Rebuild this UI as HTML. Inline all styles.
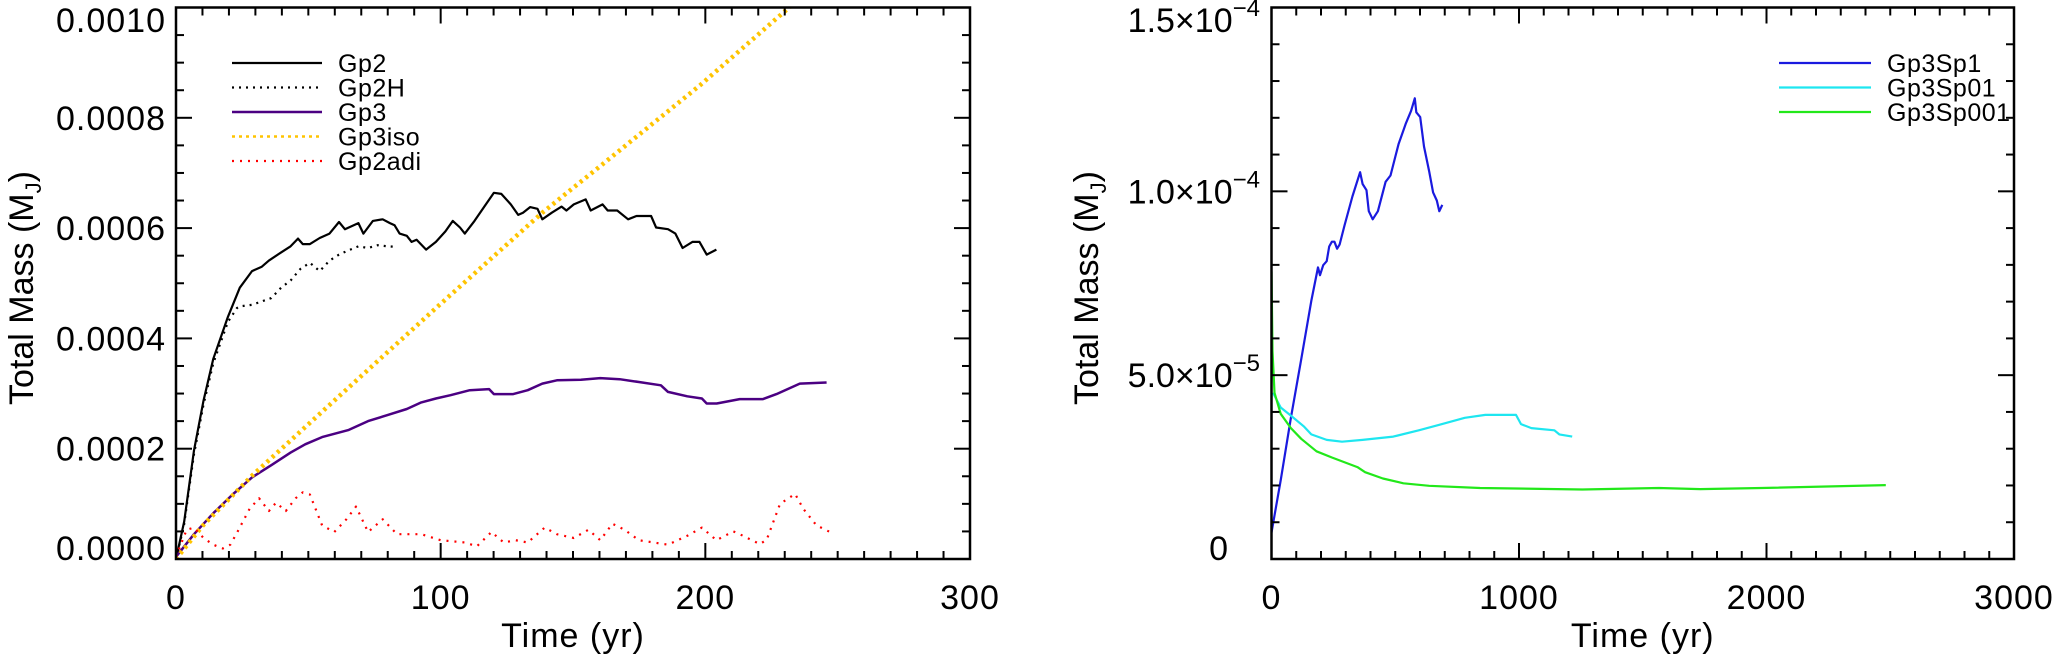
<!DOCTYPE html>
<html><head><meta charset="utf-8">
<style>
html,body{margin:0;padding:0;background:#fff;}
svg{display:block;font-family:"Liberation Sans",sans-serif;}
</style></head>
<body>
<svg id="chart" width="2052" height="655" viewBox="0 0 2052 655" xmlns="http://www.w3.org/2000/svg"></svg>
<script>
// ---------- Left panel data (time in yr, mass in units of 1e-4 MJ) ----------
const gp2T = [0,3.1,6.8,10.4,14.1,19.6,24.1,28.7,32.4,35.1,39.7,43.3,46.1,47.9,50.6,54.3,58.0,61.6,63.8,68.9,70.8,74.4,78.1,80.8,82.6,84.5,87.2,89.0,90.9,94.5,98.2,101.8,104.6,107.3,109.1,112.8,116.5,120.1,122.9,126.5,129.3,131.1,133.8,136.6,138.4,142.0,145.7,147.5,150.3,154.8,156.7,161.2,163.1,166.7,170.8,174.0,179.5,181.4,185.9,188.7,191.4,195.1,197.8,200.5,204.2];
const gp2M = [0,0.68,1.97,2.87,3.63,4.39,4.92,5.22,5.30,5.41,5.56,5.67,5.81,5.71,5.71,5.82,5.90,6.11,5.98,6.09,5.90,6.13,6.16,6.09,6.05,5.90,5.86,5.75,5.79,5.61,5.75,5.94,6.13,6.01,5.90,6.13,6.39,6.64,6.62,6.43,6.24,6.28,6.38,6.35,6.16,6.28,6.39,6.32,6.43,6.52,6.32,6.43,6.32,6.32,6.16,6.22,6.22,6.01,5.98,5.90,5.64,5.75,5.75,5.52,5.61];
const gp2hT = [0,3,6.8,10.4,14.1,19.6,23,24.1,28.7,36.0,39.7,43.3,47.0,50.6,54.3,58.0,61.6,65.3,68.9,72.6,76.2,79.9,83.5];
const gp2hM = [0,0.6,1.9,2.8,3.55,4.3,4.55,4.58,4.61,4.73,4.92,5.05,5.26,5.37,5.22,5.41,5.52,5.60,5.67,5.64,5.69,5.67,5.66];
const gp3T = [0,6.8,14.1,21.4,28.7,36.0,43.3,48.8,55.2,59.8,65.3,72.6,79.9,87.2,92.7,98.2,103.7,111,118.3,120.1,127.4,132.9,138.4,143.9,153,160.3,167.6,174.9,183.2,185.9,193.2,198.7,200.5,204.3,213,221.8,226.9,235.7,245.8];
const gp3M = [0.04,0.45,0.83,1.17,1.48,1.70,1.93,2.08,2.21,2.27,2.34,2.50,2.61,2.72,2.84,2.91,2.97,3.06,3.08,2.99,2.99,3.06,3.18,3.24,3.25,3.28,3.26,3.21,3.15,3.03,2.95,2.91,2.82,2.82,2.90,2.90,2.99,3.18,3.20];
const isoT = [0,10,28.7,61.6,98.2,138.4,160.2,198,230.7,240];
const isoM = [0,0.6,1.51,2.95,4.55,6.28,7.12,8.59,9.96,10.35];
const adiT = [0,4,6.8,10.4,14.1,17.7,20.5,23.2,27.8,31.4,35.1,37.8,41.5,45.2,47.9,50.6,55.2,59.8,64.4,68,72.6,78.1,83.5,92.7,100,109.1,113.7,119.2,123.8,128.3,132.9,139.3,143.9,150.3,155.8,160.3,164.9,169.5,174.9,185.9,193.2,198.7,204.2,210.6,213,220.6,223.2,228.2,233.9,237,242,248.3];
const adiM = [0.04,0.53,0.57,0.38,0.26,0.19,0.26,0.49,0.91,1.10,0.87,1.02,0.87,1.10,1.21,1.17,0.61,0.49,0.72,0.95,0.49,0.72,0.45,0.45,0.34,0.30,0.23,0.49,0.30,0.34,0.30,0.57,0.45,0.38,0.53,0.34,0.64,0.53,0.34,0.26,0.42,0.57,0.34,0.50,0.45,0.27,0.35,1.0,1.18,0.91,0.61,0.46];
const leftYTicks = [0,2,4,6,8,10];
const leftYLabels = ["0.0000","0.0002","0.0004","0.0006","0.0008","0.0010"];
const leftXTicks = [0,100,200,300];
const leftXLabels = ["0","100","200","300"];

// ---------- Right panel data (time in yr, mass in units of 1e-5 MJ) ----------
const sp1T = [0,37,78.5,120,161,188,196,209,223,233,244,254,265,275,295,327,358,368,384,393,409,430,461,481,513,543,564,579,585,601,616,637,653,668,678,690];
const sp1M = [0.72,2.14,3.84,5.43,7.02,7.93,7.72,7.99,8.10,8.50,8.63,8.63,8.44,8.55,9.07,9.86,10.52,10.20,10.03,9.46,9.24,9.46,10.26,10.43,11.28,11.85,12.19,12.53,12.15,12.02,11.22,10.54,9.97,9.75,9.46,9.63];
const sp01T = [6,37,78.5,130,161,223,285,368,492,595,678,781,864,988,1008,1050,1143,1163,1215];
const sp01M = [4.52,4.12,3.90,3.61,3.39,3.24,3.19,3.24,3.33,3.50,3.65,3.84,3.92,3.92,3.67,3.56,3.50,3.39,3.33];
const sp001T = [0,4,12,37,78.5,120,182,244,347,378,450,533,637,843,1256,1566,1732,1980,2482];
const sp001M = [7.82,5.66,4.52,3.95,3.56,3.27,2.93,2.76,2.50,2.36,2.19,2.06,1.99,1.93,1.89,1.93,1.90,1.93,2.01];
const rightYTicks = [0,5,10,15];
const rightYMant = ["","5.0","1.0","1.5"];
const rightYExp = ["","-5","-4","-4"];
const rightXTicks = [0,1000,2000,3000];
const rightXLabels = ["0","1000","2000","3000"];

const NS = "http://www.w3.org/2000/svg";
const svg = document.getElementById("chart");
function mk(tag, attrs, parent){
  const e = document.createElementNS(NS, tag);
  for (const k in attrs) e.setAttribute(k, attrs[k]);
  (parent||svg).appendChild(e);
  return e;
}

function panel(cfg){
  const g = mk("g", {});
  
  
  const {x0,x1,y0,y1,xmax,ymax} = cfg;
  const sx = t => x0 + (t/xmax)*(x1-x0);
  const sy = m => y0 - (m/ymax)*(y0-y1);
  const cid = cfg.name+"-clip";
  const cp = mk("clipPath",{id:cid},g);
  mk("rect",{x:x0,y:y1,width:x1-x0,height:y0-y1},cp);
  cfg.series.forEach(s=>{
    const pts = s.t.map((t,i)=>sx(t).toFixed(1)+","+sy(s.m[i]).toFixed(1)).join(" ");
    const pl = mk("polyline",{points:pts,fill:"none",stroke:s.color,"stroke-width":s.w,"stroke-dasharray":s.dash||"","clip-path":"url(#"+cid+")","stroke-linejoin":"round"},g);
    
    
  });
  const fr = mk("rect",{x:x0,y:y1,width:x1-x0,height:y0-y1,fill:"none",stroke:"#000","stroke-width":2.5},g);
  
  
  const tk = mk("g",{stroke:"#000","stroke-width":2},g);
  
  
  for (let i=0;i<=cfg.xMinorN;i++){
    const v = i*xmax/cfg.xMinorN, X = sx(v);
    const major = Math.abs((v/cfg.xMajor)-Math.round(v/cfg.xMajor))<1e-6;
    const L = major?16:8;
    mk("line",{x1:X,x2:X,y1:y0,y2:y0-L},tk);
    mk("line",{x1:X,x2:X,y1:y1,y2:y1+L},tk);
  }
  for (let i=0;i<=cfg.yMinorN;i++){
    const v = i*ymax/cfg.yMinorN, Y = sy(v);
    const major = Math.abs((v/cfg.yMajor)-Math.round(v/cfg.yMajor))<1e-6;
    const L = major?16:8;
    mk("line",{x1:x0,x2:x0+L,y1:Y,y2:Y},tk);
    mk("line",{x1:x1,x2:x1-L,y1:Y,y2:Y},tk);
  }
  cfg.xTicks.forEach((v,i)=>{
    const t = mk("text",{x:sx(v),y:609,"text-anchor":"middle","font-size":34,"letter-spacing":1,fill:"#000"},g);
    t.textContent = cfg.xLabels[i];
    
    
  });
  cfg.yTicks.forEach((v,i)=>{
    let cy = sy(v);
    cy = Math.max(20, Math.min(548, cy));
    const t = mk("text",{x:cfg.ylabX,y:cy+12,"text-anchor":"end","font-size":34,"letter-spacing":cfg.yExp?0:1,fill:"#000"},g);
    if (cfg.yExp){
      if (cfg.yExp[i]===""){ t.setAttribute("x", cfg.ylabX-32); t.textContent = "0"; }
      else {
        const a = mk("tspan",{},t); a.textContent = cfg.yMant[i]+"\u00d710";
        const b = mk("tspan",{dy:-16,"font-size":24},t); b.textContent = cfg.yExp[i].replace("-","\u2212");
      }
    } else t.textContent = cfg.yLabels[i];
    
    
  });
  const xt = mk("text",{x:(x0+x1)/2,y:647,"text-anchor":"middle","font-size":34,"letter-spacing":1,fill:"#000","xml:space":"preserve"},g);
  xt.textContent = "Time  (yr)";
  
  
  const yt = mk("text",{x:0,y:0,"text-anchor":"middle","font-size":34,fill:"#000","xml:space":"preserve",transform:"translate("+cfg.ytitleX+",288) rotate(-90)"},g);
  const y1s = mk("tspan",{},yt); y1s.textContent = "Total Mass  (M";
  const y2s = mk("tspan",{dy:8,"font-size":22},yt); y2s.textContent = "J";
  const y3s = mk("tspan",{dy:-8},yt); y3s.textContent = ")";
  
  
  cfg.series.forEach((s,i)=>{
    const ly = cfg.legY + i*24.5;
    const lg = mk("g",{},g);
    
    
    mk("line",{x1:cfg.legX0,x2:cfg.legX1,y1:ly,y2:ly,stroke:s.color,"stroke-width":s.legW||s.w,"stroke-dasharray":s.dash||""},lg);
    const lt = mk("text",{x:cfg.legTX,y:ly+9,"font-size":25,"letter-spacing":0.5,fill:"#000"},lg);
    lt.textContent = s.label;
  });
}

panel({name:"left-panel",x0:176,x1:970,y0:559,y1:7.5,xmax:300,ymax:10,
  xMajor:100,xMinorN:30,yMajor:2,yMinorN:20,
  xTicks:leftXTicks,xLabels:leftXLabels,yTicks:leftYTicks,yLabels:leftYLabels,
  ylabX:166,ytitleX:33,legX0:232,legX1:322,legTX:338,legY:63,
  series:[
    {id:"gp2",label:"Gp2",t:gp2T,m:gp2M,color:"#000",w:2.2},
    {id:"gp2h",label:"Gp2H",t:gp2hT,m:gp2hM,color:"#000",w:2.2,dash:"2,5"},
    {id:"gp3",label:"Gp3",t:gp3T,m:gp3M,color:"#4b0082",w:2.5},
    {id:"gp3iso",label:"Gp3iso",t:isoT,m:isoM,color:"#ffc400",w:4.5,dash:"3,4",legW:2.5},
    {id:"gp2adi",label:"Gp2adi",t:adiT,m:adiM,color:"#ff0000",w:2.2,dash:"2,6"}
  ]});

panel({name:"right-panel",x0:1271.5,x1:2014,y0:559,y1:7.5,xmax:3000,ymax:15,
  xMajor:1000,xMinorN:30,yMajor:5,yMinorN:15,
  xTicks:rightXTicks,xLabels:rightXLabels,yTicks:rightYTicks,yMant:rightYMant,yExp:rightYExp,
  ylabX:1260,ytitleX:1098,legX0:1779,legX1:1871,legTX:1887,legY:63,
  series:[
    {id:"gp3sp1",label:"Gp3Sp1",t:sp1T,m:sp1M,color:"#1a1adf",w:2.2},
    {id:"gp3sp01",label:"Gp3Sp01",t:sp01T,m:sp01M,color:"#1ee6f0",w:2.2},
    {id:"gp3sp001",label:"Gp3Sp001",t:sp001T,m:sp001M,color:"#22e81a",w:2.2}
  ]});
</script>
</body></html>
